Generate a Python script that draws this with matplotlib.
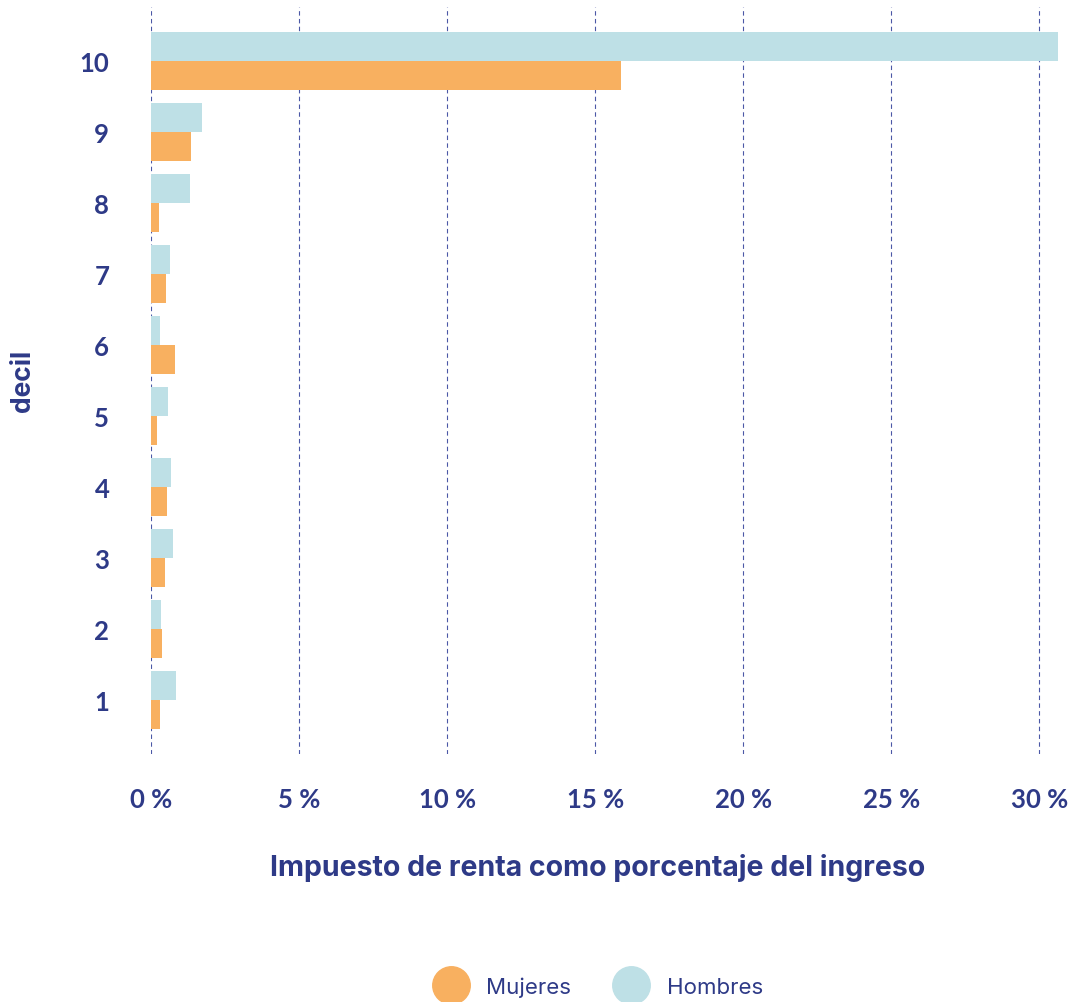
import matplotlib
matplotlib.use("Agg")
import matplotlib.pyplot as plt
from matplotlib.lines import Line2D
import numpy as np

# data (percent of income)
deciles = ["1", "2", "3", "4", "5", "6", "7", "8", "9", "10"]
hombres = [0.84, 0.34, 0.74, 0.68, 0.57, 0.30, 0.64, 1.32, 1.72, 30.64]
mujeres = [0.30, 0.37, 0.47, 0.54, 0.20, 0.81, 0.51, 0.27, 1.35, 15.88]
xticks = [0, 5, 10, 15, 20, 25, 30]
xtick_labels = ["0 %", "5 %", "10 %", "15 %", "20 %", "25 %", "30 %"]

navy = "#2E3A87"
grid = "#4B58A6"
orange = "#F8B060"
blue = "#BEE0E6"

W, H = 1071, 1003
fig = plt.figure(figsize=(W / 100, H / 100), dpi=100)
ax = fig.add_axes([151 / W, 1 - 755 / H, (1060 - 151) / W, (755 - 8) / H])

y = np.arange(1, len(deciles) + 1)
bh = 0.41
ax.barh(y + bh / 2, hombres, height=bh, color=blue, zorder=2)
ax.barh(y - bh / 2, mujeres, height=bh, color=orange, zorder=2)

ax.set_xlim(0, 30.7)
ax.set_ylim(0.24, 10.76)
ax.set_xticks(xticks)
ax.set_xticklabels(xtick_labels)
ax.set_yticks(y)
ax.set_yticklabels(deciles)
for t in ax.get_xticklabels() + ax.get_yticklabels():
    t.set_fontfamily("Lato")
    t.set_fontweight("bold")
    t.set_fontsize(18.5)
    t.set_color(navy)
ax.tick_params(axis="x", length=0, pad=24)
ax.tick_params(axis="y", length=0, pad=30)

for v in xticks:
    ax.axvline(v, color=grid, lw=0.8, ls=(0, (4, 3)), zorder=1)

for s in ax.spines.values():
    s.set_visible(False)

ax.set_xlabel("Impuesto de renta como porcentaje del ingreso", fontsize=20.5,
              fontweight="bold", color=navy, family="Inter")
ax.xaxis.set_label_coords((598 - 151) / 909, (755 - 868) / 747)
ax.xaxis.label.set_va("center")
ax.set_ylabel("decil", fontsize=19, fontweight="bold", color=navy,
              family="Inter")
ax.yaxis.set_label_coords((23 - 151) / 909, (755 - 381) / 747)
ax.yaxis.label.set_va("center")

handles = [
    Line2D([], [], marker="o", ls="", markersize=27, color=orange, label="Mujeres"),
    Line2D([], [], marker="o", ls="", markersize=27, color=blue, label="Hombres"),
]
fig.legend(handles=handles, loc="center", bbox_to_anchor=(596 / W, 15 / H),
           ncol=2, frameon=False, handletextpad=0.6, columnspacing=1.7,
           prop={"family": "Inter", "size": 16}, labelcolor=navy)

fig.savefig("out.png", dpi=100)
